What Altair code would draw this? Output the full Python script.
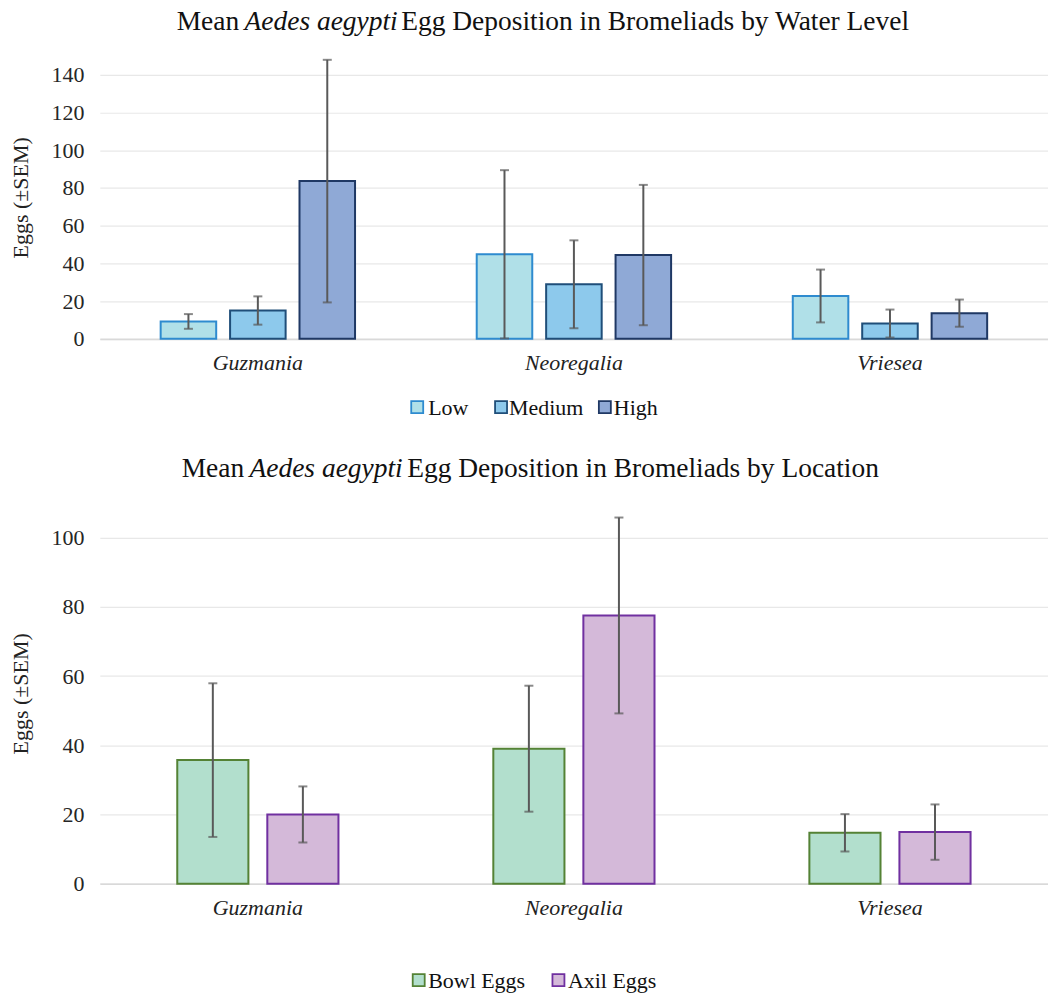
import altair as alt
import pandas as pd

FONT = "Liberation Serif"

genera = ["Guzmania", "Neoregalia", "Vriesea"]

# Chart 1: by water level
levels = ["Low", "Medium", "High"]
low_mean = [9.2, 44.8, 22.7]
low_sem = [3.9, 44.6, 14.0]
medium_mean = [15.0, 28.9, 8.1]
medium_sem = [7.5, 23.3, 7.4]
high_mean = [83.6, 44.4, 13.6]
high_sem = [64.3, 37.2, 7.2]
level_fills = ["#B0E0E8", "#8DC9EC", "#8FA9D6"]
level_strokes = ["#2E8BCF", "#1F4E79", "#1F3864"]

# Chart 2: by location
locations = ["Bowl Eggs", "Axil Eggs"]
bowl_mean = [35.7, 39.0, 14.7]
bowl_sem = [22.2, 18.2, 5.4]
axil_mean = [20.0, 77.5, 14.9]
axil_sem = [8.1, 28.3, 8.0]
loc_fills = ["#B2DFCD", "#D4B9D9"]
loc_strokes = ["#548235", "#7030A0"]


def build(groups, means, sems):
    rows = []
    for g, m_list, s_list in zip(groups, means, sems):
        for genus, m, s in zip(genera, m_list, s_list):
            rows.append({"genus": genus, "group": g, "mean": m, "sem": s,
                         "lo": max(m - s, 0), "hi": m + s})
    return pd.DataFrame(rows)


df1 = build(levels, [low_mean, medium_mean, high_mean], [low_sem, medium_sem, high_sem])
df2 = build(locations, [bowl_mean, axil_mean], [bowl_sem, axil_sem])


def panel(df, groups, fills, strokes, height, ymax, ticks, inner_pad, offset_pad,
          title_parts, title_xs, title_y, legend_sq_x, legend_tx_x, legend_y):
    xaxis = alt.Axis(title=None, labelAngle=0, labelFontStyle="italic", labelFont=FONT,
                     labelFontSize=22, labelColor="#222222", labelPadding=14,
                     ticks=False, domainColor="#D9D9D9", domainWidth=1.5, grid=False)
    x = alt.X("genus:N", sort=genera,
              scale=alt.Scale(paddingInner=inner_pad, paddingOuter=inner_pad / 2),
              axis=xaxis)
    xo = alt.XOffset("group:N", sort=groups,
                     scale=alt.Scale(paddingInner=offset_pad, paddingOuter=0))
    yscale = alt.Scale(domain=[0, ymax], nice=False)
    yaxis = alt.Axis(title="Eggs (±SEM)", values=ticks, titleFont=FONT, titleFontSize=22,
                     titleFontWeight="normal", titleColor="#222222", titlePadding=18,
                     labelFont=FONT, labelFontSize=22, labelColor="#262626", labelPadding=16,
                     ticks=False, domain=False, grid=True, gridColor="#E8E8E8", gridWidth=1.2)
    fill = alt.Fill("group:N", sort=groups, scale=alt.Scale(domain=groups, range=fills), legend=None)
    stroke = alt.Stroke("group:N", sort=groups, scale=alt.Scale(domain=groups, range=strokes), legend=None)

    bars = alt.Chart(df).mark_bar(strokeWidth=2).encode(
        x=x, xOffset=xo, y=alt.Y("mean:Q", scale=yscale, axis=yaxis), fill=fill, stroke=stroke)
    rule = alt.Chart(df).mark_rule(color="#595959", strokeWidth=2).encode(
        x=x, xOffset=xo, y=alt.Y("lo:Q", scale=yscale, axis=yaxis), y2="hi:Q")
    cap_lo = alt.Chart(df).mark_tick(color="#595959", thickness=2, size=9).encode(
        x=x, xOffset=xo, y=alt.Y("lo:Q", scale=yscale, axis=yaxis))
    cap_hi = alt.Chart(df).mark_tick(color="#595959", thickness=2, size=9).encode(
        x=x, xOffset=xo, y=alt.Y("hi:Q", scale=yscale, axis=yaxis))

    tdf = pd.DataFrame({"k": [0]})
    texts = []
    for part, tx, style in zip(title_parts, title_xs, ["normal", "italic", "normal"]):
        texts.append(alt.Chart(tdf).mark_text(
            text=part, font=FONT, fontSize=27.5, fontStyle=style, color="#111111",
            align="left", baseline="middle").encode(x=alt.value(tx), y=alt.value(title_y)))

    # legend built from the same fill / stroke scales
    legend_layers = []
    for g, sx, tx in zip(groups, legend_sq_x, legend_tx_x):
        gdf = pd.DataFrame({"group": [g]})
        legend_layers.append(alt.Chart(gdf).mark_square(size=144, strokeWidth=1.8, opacity=1).encode(
            x=alt.value(sx), y=alt.value(legend_y), fill=fill, stroke=stroke))
        legend_layers.append(alt.Chart(gdf).mark_text(
            font=FONT, fontSize=22, color="#111111", align="left", baseline="middle").encode(
            x=alt.value(tx), y=alt.value(legend_y + 1), text="group:N"))

    return alt.layer(bars, rule, cap_lo, cap_hi, *texts, *legend_layers).properties(
        width=950, height=height)


top = panel(df1, levels, level_fills, level_strokes, 283.5, 150, [0, 20, 40, 60, 80, 100, 120, 140],
            0.385, 0.2,
            ["Mean", "Aedes aegypti", "Egg Deposition in Bromeliads by Water Level"],
            [77, 145, 302], -34, [318, 402, 506], [329, 410, 515], 352)
bottom = panel(df2, locations, loc_fills, loc_strokes, 381.4, 110, [0, 20, 40, 60, 80, 100],
               0.49, 0.21,
               ["Mean", "Aedes aegypti", "Egg Deposition in Bromeliads by Location"],
               [82, 150, 308], -34, [319.5, 459.5], [329, 469], 478)

chart = alt.vconcat(top, bottom, spacing=36).resolve_scale(
    x="independent", xOffset="independent", y="independent",
    fill="independent", stroke="independent"
).configure(
    padding={"left": 2, "top": -1, "right": 0, "bottom": 0}
).configure_view(stroke=None)

chart.save("out.html", embed_options={"renderer": "svg", "actions": False})
